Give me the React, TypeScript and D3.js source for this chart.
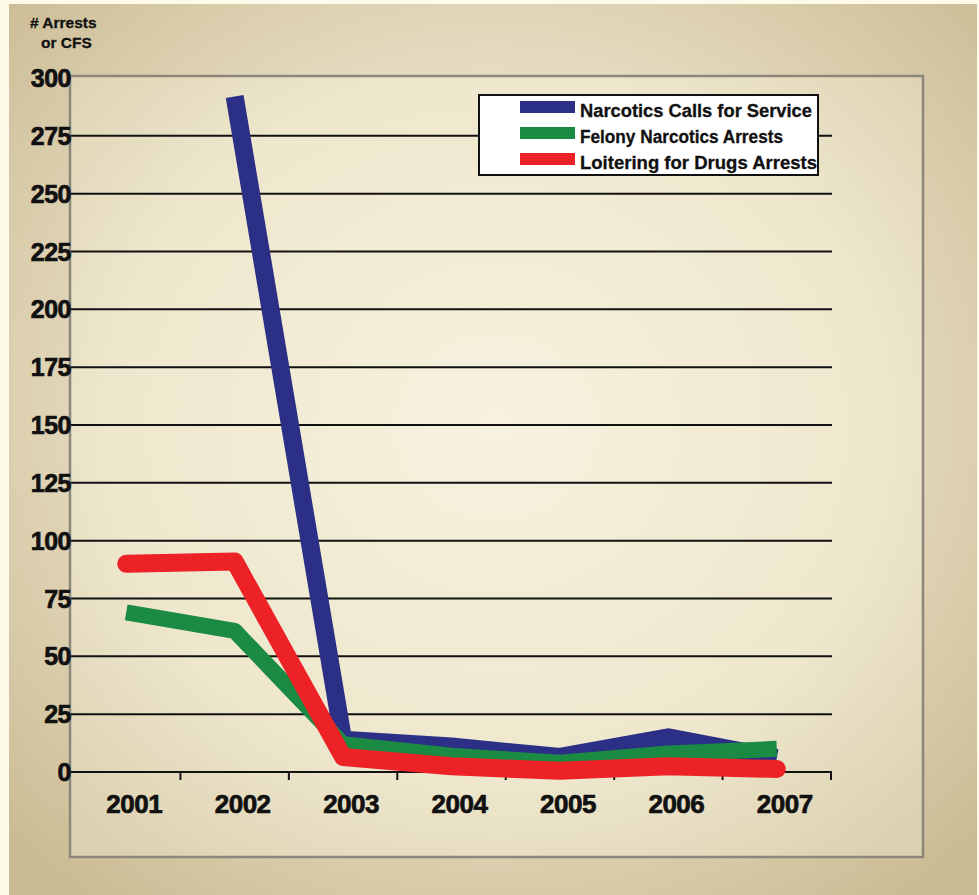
import React from "react";
import * as d3 from "d3";

const years = ["2001", "2002", "2003", "2004", "2005", "2006", "2007"];
const narcoticsCFS: (number | null)[] = [null, 292, 14, 11, 6.5, 15, 6];
const felonyArrests: (number | null)[] = [69, 61, 12, 7, 4, 8, 10];
const loiteringArrests: (number | null)[] = [90, 91, 6.5, 2.5, 0.5, 2.5, 1.3];
const yTicks = [0, 25, 50, 75, 100, 125, 150, 175, 200, 225, 250, 275, 300];
const seriesNames = ["Narcotics Calls for Service", "Felony Narcotics Arrests", "Loitering for Drugs Arrests"];
const seriesColors = ["#2c2f86", "#1b8a42", "#ec2227"];

const W = 979;
const H = 895;

export default function App() {
  const x = d3.scaleBand<string>().domain(years).range([72, 831]);
  const y = d3.scaleLinear().domain([0, 300]).range([772, 78]);
  const line = d3
    .line<number | null>()
    .defined((d) => d !== null)
    .x((_, i) => (x(years[i]) as number) + x.bandwidth() / 2)
    .y((d) => y(d as number));

  const series = [
    { vals: narcoticsCFS, w: 18, cap: "butt" },
    { vals: felonyArrests, w: 16, cap: "butt" },
    { vals: loiteringArrests, w: 18, cap: "round" },
  ];

  const font = "'Liberation Sans', Arial, Helvetica, sans-serif";

  return (
    <svg width={W} height={H} style={{ position: "absolute", left: 0, top: 0 }} fontFamily={font}>
      <defs>
        <radialGradient id="outerBg" cx="50%" cy="45%" r="70%">
          <stop offset="0%" stopColor="#f3eed9" />
          <stop offset="55%" stopColor="#e5dbbf" />
          <stop offset="100%" stopColor="#cbbb94" />
        </radialGradient>
        <radialGradient id="innerBg" cx="50%" cy="45%" r="70%">
          <stop offset="0%" stopColor="#f7f2df" />
          <stop offset="65%" stopColor="#eee7cd" />
          <stop offset="100%" stopColor="#dcd1b1" />
        </radialGradient>
      </defs>
      <rect x={0} y={0} width={W} height={H} fill="#fefbea" />
      <rect x={9} y={4} width={968} height={H - 4} fill="url(#outerBg)" />
      <rect x={70} y={76} width={853} height={781} fill="url(#innerBg)" stroke="#8d877b" strokeWidth={2.5} />

      {/* axis title */}
      <text x={30} y={28} fontSize={15.5} fontWeight="bold" fill="#111" stroke="#111" strokeWidth={0.3}>
        # Arrests
      </text>
      <text x={41} y={48} fontSize={15.5} fontWeight="bold" fill="#111" stroke="#111" strokeWidth={0.3}>
        or CFS
      </text>

      {/* gridlines */}
      {yTicks.map((t) =>
        t === 300 ? null : (
          <line key={t} x1={71} x2={832} y1={y(t)} y2={y(t)} stroke="#111" strokeWidth={2} />
        )
      )}
      {/* y tick labels */}
      {yTicks.map((t) => (
        <text
          key={"l" + t}
          x={71}
          y={y(t) + 9}
          textAnchor="end"
          fontSize={25}
          fontWeight="bold"
          fill="#111"
          stroke="#111"
          strokeWidth={0.7}
          letterSpacing={-0.5}
        >
          {t}
        </text>
      ))}

      {/* x axis ticks */}
      {years.map((yr) => {
        const bx = (x(yr) as number) + x.bandwidth();
        return <line key={"t" + yr} x1={bx} x2={bx} y1={772} y2={780} stroke="#111" strokeWidth={2} />;
      })}
      {years.map((yr) => (
        <text
          key={"x" + yr}
          x={(x(yr) as number) + x.bandwidth() / 2 + 8}
          y={813}
          textAnchor="middle"
          fontSize={26}
          fontWeight="bold"
          fill="#111"
          stroke="#111"
          strokeWidth={0.7}
          letterSpacing={-0.5}
        >
          {yr}
        </text>
      ))}

      {/* series lines */}
      {series.map((s, i) => (
        <path
          key={"s" + i}
          d={line(s.vals) || ""}
          fill="none"
          stroke={seriesColors[i]}
          strokeWidth={s.w}
          strokeLinecap={s.cap as any}
          strokeLinejoin="round"
        />
      ))}

      {/* legend */}
      <rect x={479} y={95} width={339} height={80} fill="#ffffff" stroke="#111" strokeWidth={2} />
      {seriesNames.map((n, i) => (
        <g key={"lg" + i}>
          <rect x={520} y={101 + i * 26} width={55} height={12} fill={seriesColors[i]} />
          <text
            x={580}
            y={117 + i * 26}
            fontSize={18}
            fontWeight="bold"
            fill="#111"
            stroke="#111"
            strokeWidth={0.3}
            textLength={n === seriesNames[0] ? 232 : n === seriesNames[1] ? 203 : 237}
            lengthAdjust="spacingAndGlyphs"
          >
            {n}
          </text>
        </g>
      ))}
    </svg>
  );
}
